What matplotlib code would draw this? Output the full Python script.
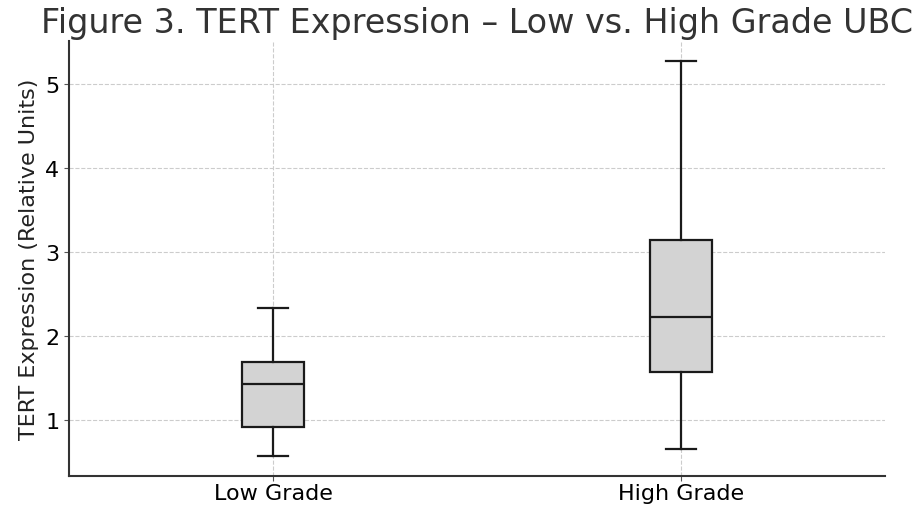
import matplotlib
matplotlib.use("Agg")
import matplotlib.pyplot as plt

# box summary values
groups = ["Low Grade", "High Grade"]
whisker_low = [0.58, 0.66]
q1 = [0.92, 1.57]
median = [1.43, 2.23]
q3 = [1.69, 3.14]
whisker_high = [2.33, 5.27]

stats = [
    {"label": g, "whislo": lo, "q1": a, "med": m, "q3": b, "whishi": hi, "fliers": []}
    for g, lo, a, m, b, hi in zip(groups, whisker_low, q1, median, q3, whisker_high)
]

fig = plt.figure(figsize=(9.13, 5.10), dpi=100)
ax = fig.add_axes([0.0756, 0.065, 0.8937, 0.853])

ax.bxp(
    stats,
    positions=[1, 2],
    widths=0.15,
    patch_artist=True,
    boxprops=dict(facecolor="#d3d3d3", edgecolor="#1a1a1a", linewidth=1.6),
    medianprops=dict(color="#1a1a1a", linewidth=1.6),
    whiskerprops=dict(color="#1a1a1a", linewidth=1.6),
    capprops=dict(color="#1a1a1a", linewidth=1.6),
)

ax.set_xlim(0.5, 2.5)
ax.set_ylim(0.34, 5.51)
ax.set_yticks([1, 2, 3, 4, 5])
ax.set_xticks([1, 2])
ax.set_xticklabels(groups, fontsize=16)
ax.tick_params(axis="y", labelsize=16)
ax.tick_params(axis="x", pad=2)
ax.tick_params(length=3.5, color="#555555")
ax.set_ylabel("TERT Expression (Relative Units)", fontsize=16, color="#222222", labelpad=4)
# title kept just inside the figure edge
ax.set_title("Figure 3. TERT Expression \u2013 Low vs. High Grade UBC",
             fontsize=24, color="#333333", pad=6)

ax.grid(True, linestyle="--", color="#cccccc", linewidth=0.8)
ax.set_axisbelow(True)
for side in ["top", "right"]:
    ax.spines[side].set_visible(False)
for side in ["left", "bottom"]:
    ax.spines[side].set_color("#333333")
    ax.spines[side].set_linewidth(1.5)

fig.savefig("out.png", dpi=100)
